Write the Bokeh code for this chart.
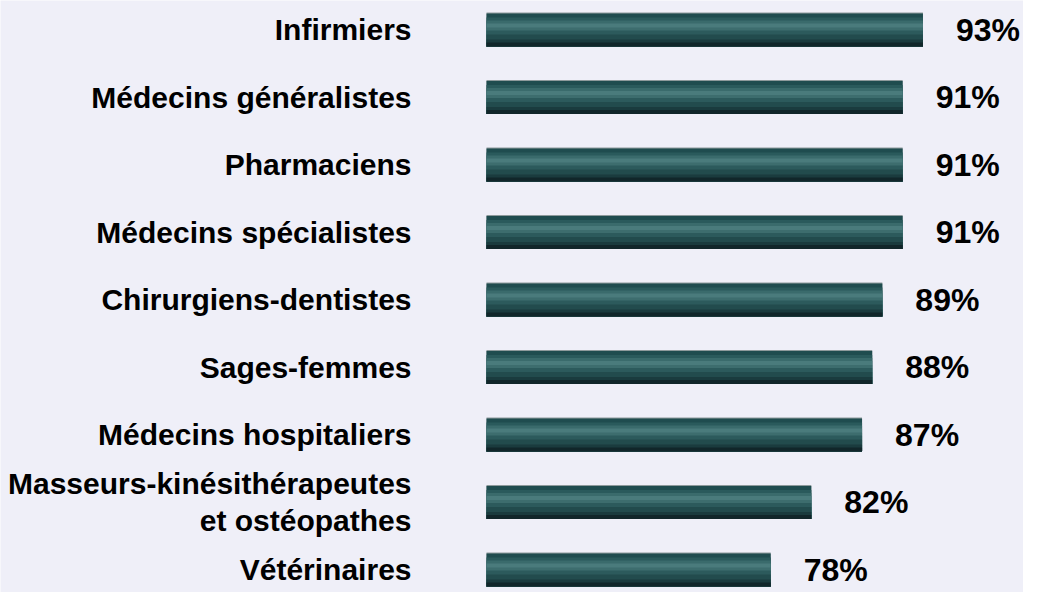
from bokeh.plotting import figure
from bokeh.models import Range1d, ColumnDataSource
from bokeh.core.properties import value
from bokeh.embed import file_html
from bokeh.resources import INLINE

# ---- data ----
categories = [
    "Infirmiers",
    "Médecins généralistes",
    "Pharmaciens",
    "Médecins spécialistes",
    "Chirurgiens-dentistes",
    "Sages-femmes",
    "Médecins hospitaliers",
    "Masseurs-kinésithérapeutes\net ostéopathes",
    "Vétérinaires",
]
values = [93, 91, 91, 91, 89, 88, 87, 82, 78]
labels = [f"{v}%" for v in values]

# ---- style ----
BG = "#EFEFF8"
BASE = 50            # value axis starts at 50 %
PX_PER_ROW = 67.5    # vertical pixel size of one row
PX_PER_UNIT = 10.15  # horizontal pixels per percentage point
BAR_LEFT_PX = 486
BAR_PX = 34
FONT = value("Liberation Sans")

# gradient profile of a bar: (top px within bar, colour) from top to bottom
profile = [
    (0, "#8e9a9c"),
    (1, "#1f4c4f"),
    (5, "#2a5a5c"),
    (8, "#3a6b6c"),
    (11, "#4a7b7c"),
    (15, "#3d6d6e"),
    (18, "#2c5a5c"),
    (22, "#224b4d"),
    (27, "#1a3b3e"),
    (30, "#11262a"),
]

n = len(categories)
ypos = list(range(n))

W, H = 1023, 592
top_px = 29.0
y_top = -top_px / PX_PER_ROW
y_bot = (H - top_px) / PX_PER_ROW
x_start = BASE - BAR_LEFT_PX / PX_PER_UNIT
x_end = x_start + W / PX_PER_UNIT

p = figure(width=W, height=H, output_backend="svg", toolbar_location=None,
           x_range=Range1d(x_start, x_end), y_range=Range1d(y_bot, y_top),
           min_border=0, min_border_left=0, min_border_right=0,
           min_border_top=0, min_border_bottom=0)
p.axis.visible = False
p.grid.visible = False
p.outline_line_color = None
p.background_fill_color = BG
p.border_fill_color = BG

# bars built from overlapping strips (each reaching the bar bottom) to mimic the gradient
for top, col in profile:
    hpx = BAR_PX - top
    centre_off = (-BAR_PX / 2 + top + hpx / 2) / PX_PER_ROW
    src = ColumnDataSource(dict(y=[y + centre_off for y in ypos],
                                right=values, left=[BASE] * n))
    p.hbar(y="y", left="left", right="right", height=hpx / PX_PER_ROW,
           source=src, fill_color=col, line_color=None)

# value labels
vsrc = ColumnDataSource(dict(x=values, y=ypos, t=labels))
p.text(x="x", y="y", text="t", source=vsrc, x_offset=33,
       text_align="left", text_baseline="middle",
       text_font=FONT, text_font_style="bold", text_font_size="32px",
       text_color="black")

# category labels
csrc = ColumnDataSource(dict(x=[BASE] * n, y=ypos, t=categories))
p.text(x="x", y="y", text="t", source=csrc, x_offset=-75,
       text_align="right", text_baseline="middle", text_line_height=1.15,
       text_font=FONT, text_font_style="bold", text_font_size="30px",
       text_color="black")

open("out.html", "w").write(file_html(p, INLINE))
